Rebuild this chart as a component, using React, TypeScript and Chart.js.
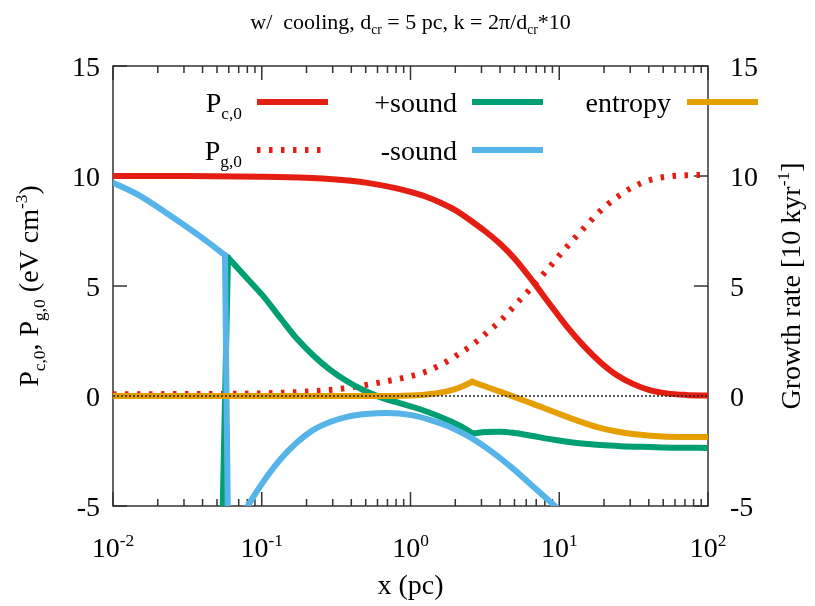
import React, { useEffect, useRef } from 'react';
import { Chart, registerables } from 'chart.js';

Chart.register(...registerables);

// ---------- data ----------
const PC_X = [0.01, 0.0316, 0.1, 0.2, 0.316, 0.5, 0.794, 1, 1.26, 1.58, 2, 2.63, 3.16, 4, 5, 6.66, 8.7, 11.3, 14.5, 18.8, 24, 31.3, 40, 53, 71, 100];
const PC_Y = [10.0, 10.0, 9.97, 9.92, 9.84, 9.7, 9.45, 9.28, 9.07, 8.8, 8.45, 7.9, 7.5, 6.92, 6.25, 5.2, 4.15, 3.14, 2.3, 1.55, 0.98, 0.55, 0.28, 0.12, 0.05, 0.02];

const PG_X = [0.01, 0.0316, 0.1, 0.2, 0.316, 0.5, 0.794, 1, 1.26, 1.58, 2, 2.63, 3.16, 4, 5, 6.66, 8.7, 11.3, 14.5, 18.8, 24, 31.3, 40, 53, 71, 100];
const PG_Y = [0.08, 0.09, 0.12, 0.2, 0.3, 0.5, 0.75, 0.9, 1.1, 1.4, 1.8, 2.35, 2.8, 3.4, 4.1, 5.0, 5.9, 6.8, 7.6, 8.4, 9.0, 9.5, 9.8, 9.97, 10.03, 10.05];

// +sound (three pieces: jump, decay, tail)
const PS_JUMP_X = [0.0545, 0.0593];
const PS_JUMP_Y = [-5.5, 6.3];
const PS_DECAY_X = [0.0593, 0.0759, 0.102, 0.135, 0.1726, 0.224, 0.287, 0.372, 0.48, 0.624, 0.794, 1.04, 1.35, 1.76, 2.19, 2.63];
const PS_DECAY_Y = [6.3, 5.5, 4.55, 3.5, 2.6, 1.82, 1.2, 0.68, 0.27, -0.05, -0.27, -0.5, -0.76, -1.08, -1.38, -1.7];
const PS_TAIL_X = [2.63, 3.2, 4.0, 5.0, 6.66, 8.5, 11.3, 14.2, 18.8, 26, 40.7, 60, 100];
const PS_TAIL_Y = [-1.7, -1.64, -1.62, -1.68, -1.82, -1.95, -2.08, -2.16, -2.23, -2.28, -2.32, -2.35, -2.36];

// -sound (three pieces: top-left, drop, lower arc)
const MS_TOP_X = [0.01, 0.0147, 0.0249, 0.0415, 0.0566];
const MS_TOP_Y = [9.7, 9.15, 8.15, 7.1, 6.4];
const MS_DROP_X = [0.0566, 0.0592];
const MS_DROP_Y = [6.4, -5.5];
const MS_ARC_X = [0.0759, 0.0796, 0.1, 0.1327, 0.17, 0.221, 0.288, 0.374, 0.5, 0.695, 1.04, 1.35, 1.76, 2.14, 2.63, 3.55, 4.89, 6.76, 9.36, 10.5];
const MS_ARC_Y = [-5.3, -5.05, -4.0, -2.9, -2.15, -1.55, -1.18, -0.95, -0.82, -0.77, -0.88, -1.08, -1.35, -1.62, -1.95, -2.55, -3.3, -4.15, -5.0, -5.3];

// entropy (rise and tail)
const EN_RISE_X = [0.01, 0.1, 0.5, 0.8, 1.0, 1.2, 1.42, 1.84, 2.2, 2.6];
const EN_RISE_Y = [0, 0, 0, 0.005, 0.02, 0.05, 0.1, 0.24, 0.42, 0.65];
const EN_TAIL_X = [2.6, 3.2, 4.0, 6.66, 11.3, 18.8, 31.3, 53, 100];
const EN_TAIL_Y = [0.65, 0.43, 0.2, -0.36, -0.95, -1.45, -1.73, -1.85, -1.86];

const ZERO_X = [0.01, 100];
const ZERO_Y = [0, 0];

const X_TICK_VALUES = [0.01, 0.1, 1, 10, 100];
const X_TICK_EXPONENTS = ['-2', '-1', '0', '1', '2'];
const Y_TICKS = [-5, 0, 5, 10, 15];

const LEGEND_LABELS = ['P|c,0', '+sound', 'entropy', 'P|g,0', '-sound'];

// ---------- styles ----------
const RED = '#e41e12';
const GREEN = '#009e73';
const BLUE = '#56b4e9';
const ORANGE = '#e69f00';
const FRAME = '#333333';
const FONT_FAMILY = '"Liberation Serif", "Times New Roman", Times, serif';
const LW = 6;

type Seg = { t: string; s?: 'sub' | 'sup' };

function fnt(size: number) {
  return `${size}px ${FONT_FAMILY}`;
}
function richWidth(ctx: CanvasRenderingContext2D, segs: Seg[], size: number) {
  let w = 0;
  for (const sg of segs) {
    ctx.font = fnt(sg.s ? size * 0.62 : size);
    w += ctx.measureText(sg.t).width;
  }
  return w;
}
function drawRich(ctx: CanvasRenderingContext2D, segs: Seg[], x: number, y: number, size: number, align: 'left' | 'right' | 'center') {
  const w = richWidth(ctx, segs, size);
  let cx = align === 'left' ? x : align === 'right' ? x - w : x - w / 2;
  ctx.textAlign = 'left';
  ctx.textBaseline = 'alphabetic';
  for (const sg of segs) {
    const sz = sg.s ? size * 0.62 : size;
    ctx.font = fnt(sz);
    const dy = sg.s === 'sub' ? size * 0.24 : sg.s === 'sup' ? -size * 0.38 : 0;
    ctx.fillText(sg.t, cx, y + dy);
    cx += ctx.measureText(sg.t).width;
  }
}
function labelSegs(label: string): Seg[] {
  const [a, b] = label.split('|');
  return b ? [{ t: a }, { t: b, s: 'sub' }] : [{ t: a }];
}

function ds(xs: number[], ys: number[], color: string, order: number, extra: any = {}) {
  return {
    data: xs.map((x, i) => ({ x, y: ys[i] })),
    borderColor: color,
    backgroundColor: color,
    borderWidth: LW,
    pointRadius: 0,
    fill: false,
    cubicInterpolationMode: 'monotone',
    clip: 0,
    borderCapStyle: 'round',
    borderJoinStyle: 'round',
    order,
    ...extra,
  };
}

const framePlugin = {
  id: 'gnuFrame',
  beforeDatasetsDraw(chart: any) {
    const { ctx, chartArea: a, scales } = chart;
    const xs = scales.x;
    const ys = scales.y;
    ctx.save();
    ctx.strokeStyle = FRAME;
    ctx.lineWidth = 1.5;
    ctx.strokeRect(a.left, a.top, a.right - a.left, a.bottom - a.top);
    ctx.beginPath();
    for (let d = -2; d <= 2; d++) {
      const major = Math.pow(10, d);
      const px = xs.getPixelForValue(major);
      ctx.moveTo(px, a.bottom); ctx.lineTo(px, a.bottom - 14);
      ctx.moveTo(px, a.top); ctx.lineTo(px, a.top + 14);
      if (d < 2) {
        for (let m = 2; m <= 9; m++) {
          const p = xs.getPixelForValue(m * major);
          ctx.moveTo(p, a.bottom); ctx.lineTo(p, a.bottom - 7);
          ctx.moveTo(p, a.top); ctx.lineTo(p, a.top + 7);
        }
      }
    }
    for (const v of Y_TICKS) {
      const py = ys.getPixelForValue(v);
      ctx.moveTo(a.left, py); ctx.lineTo(a.left + 14, py);
      ctx.moveTo(a.right, py); ctx.lineTo(a.right - 14, py);
    }
    ctx.stroke();
    ctx.restore();
  },
  afterDatasetsDraw(chart: any) {
    const { ctx, chartArea: a, scales } = chart;
    const xs = scales.x;
    const ys = scales.y;
    ctx.save();
    ctx.fillStyle = '#000';
    for (const v of Y_TICKS) {
      const py = ys.getPixelForValue(v);
      drawRich(ctx, [{ t: String(v) }], a.left - 13, py + 9.5, 28, 'right');
      drawRich(ctx, [{ t: String(v) }], a.right + 22, py + 9.5, 28, 'left');
    }
    X_TICK_VALUES.forEach((v, i) => {
      const px = xs.getPixelForValue(v);
      drawRich(ctx, [{ t: '10' }, { t: X_TICK_EXPONENTS[i], s: 'sup' }], px, 557, 28, 'center');
    });
    const cx = (a.left + a.right) / 2;
    drawRich(ctx, [{ t: 'x (pc)' }], cx, 594, 28, 'center');
    drawRich(
      ctx,
      [{ t: 'w/  cooling, d' }, { t: 'cr', s: 'sub' }, { t: ' = 5 pc, k = 2π/d' }, { t: 'cr', s: 'sub' }, { t: '*10' }],
      cx, 29, 22, 'center'
    );
    const cy = (a.top + a.bottom) / 2;
    ctx.save();
    ctx.translate(38, cy);
    ctx.rotate(-Math.PI / 2);
    drawRich(
      ctx,
      [{ t: 'P' }, { t: 'c,0', s: 'sub' }, { t: ', P' }, { t: 'g,0', s: 'sub' }, { t: ' (eV cm' }, { t: '-3', s: 'sup' }, { t: ')' }],
      0, 0, 28, 'center'
    );
    ctx.restore();
    ctx.save();
    ctx.translate(800, cy);
    ctx.rotate(-Math.PI / 2);
    drawRich(ctx, [{ t: 'Growth rate [10 kyr' }, { t: '-1', s: 'sup' }, { t: ']' }], 0, 0, 28, 'center');
    ctx.restore();

    const items = [
      { label: LEGEND_LABELS[0], color: RED, dash: [] as number[], tx: 242, sx: 257, y: 102 },
      { label: LEGEND_LABELS[1], color: GREEN, dash: [], tx: 457, sx: 472, y: 102 },
      { label: LEGEND_LABELS[2], color: ORANGE, dash: [], tx: 671, sx: 687, y: 102 },
      { label: LEGEND_LABELS[3], color: RED, dash: [3.5, 8.5], tx: 242, sx: 257, y: 150 },
      { label: LEGEND_LABELS[4], color: BLUE, dash: [], tx: 457, sx: 472, y: 150 },
    ];
    for (const it of items) {
      ctx.fillStyle = '#000';
      drawRich(ctx, labelSegs(it.label), it.tx, it.y + 10, 28, 'right');
      ctx.beginPath();
      ctx.strokeStyle = it.color;
      ctx.lineWidth = LW;
      ctx.lineCap = 'butt';
      ctx.setLineDash(it.dash);
      ctx.moveTo(it.sx, it.y);
      ctx.lineTo(it.sx + 71, it.y);
      ctx.stroke();
      ctx.setLineDash([]);
    }
    ctx.restore();
  },
};

export default function App() {
  const ref = useRef<HTMLCanvasElement | null>(null);
  useEffect(() => {
    if (!ref.current) return;
    const chart = new Chart(ref.current, {
      type: 'line',
      data: {
        datasets: [
          ds(ZERO_X, ZERO_Y, '#222222', 0, { borderWidth: 1.5, borderDash: [2, 2], cubicInterpolationMode: 'default', tension: 0, borderCapStyle: 'butt' }),
          ds(EN_RISE_X, EN_RISE_Y, ORANGE, 1),
          ds(EN_TAIL_X, EN_TAIL_Y, ORANGE, 1),
          ds(MS_TOP_X, MS_TOP_Y, BLUE, 2),
          ds(MS_DROP_X, MS_DROP_Y, BLUE, 2, { cubicInterpolationMode: 'default', tension: 0 }),
          ds(MS_ARC_X, MS_ARC_Y, BLUE, 2),
          ds(PS_JUMP_X, PS_JUMP_Y, GREEN, 3, { cubicInterpolationMode: 'default', tension: 0 }),
          ds(PS_DECAY_X, PS_DECAY_Y, GREEN, 3),
          ds(PS_TAIL_X, PS_TAIL_Y, GREEN, 3),
          ds(PG_X, PG_Y, RED, 4, { borderDash: [3.5, 8.5], borderCapStyle: 'butt' }),
          ds(PC_X, PC_Y, RED, 5),
        ] as any,
      },
      options: {
        responsive: false,
        devicePixelRatio: 1,
        animation: false,
        events: [],
        layout: { padding: { left: 113, right: 107, top: 66, bottom: 100 } },
        plugins: { legend: { display: false }, tooltip: { enabled: false } },
        scales: {
          x: { type: 'logarithmic', min: 0.01, max: 100, display: false },
          y: { type: 'linear', min: -5, max: 15, display: false },
        },
      },
      plugins: [framePlugin],
    });
    return () => chart.destroy();
  }, []);
  return (
    <div style={{ position: 'fixed', left: 0, top: 0, width: 815, height: 606, background: '#fff' }}>
      <canvas ref={ref} width={815} height={606} style={{ display: 'block' }} />
    </div>
  );
}
